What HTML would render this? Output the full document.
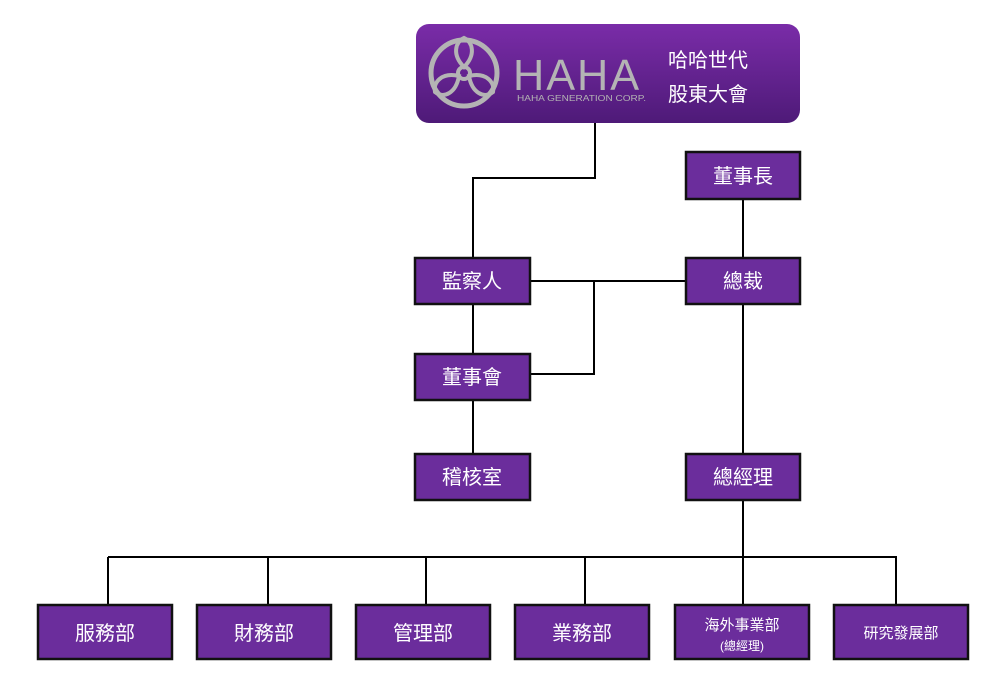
<!DOCTYPE html>
<html><head><meta charset="utf-8"><style>
html,body{margin:0;padding:0;background:#fff;}
svg{display:block}
text{font-family:"Liberation Sans","Noto Sans CJK TC",sans-serif;fill:#fff}
</style></head><body>
<svg width="1006" height="699" viewBox="0 0 1006 699" xmlns="http://www.w3.org/2000/svg">
<defs>
<linearGradient id="g" x1="0" y1="0" x2="0" y2="1">
<stop offset="0" stop-color="#7a2ca8"/><stop offset="1" stop-color="#4e1a78"/>
</linearGradient>
</defs>
<g stroke="#000" stroke-width="2" fill="none">
<polyline points="595,123 595,178 473,178 473,258"/>
<line x1="743" y1="200" x2="743" y2="258"/>
<line x1="531" y1="281" x2="685" y2="281"/>
<polyline points="531,374 594,374 594,281"/>
<line x1="473" y1="305" x2="473" y2="353"/>
<line x1="473" y1="401" x2="473" y2="453"/>
<line x1="743" y1="305" x2="743" y2="453"/>
<line x1="743" y1="501" x2="743" y2="557"/>
<line x1="108" y1="557" x2="897" y2="557"/>
<line x1="108" y1="557" x2="108" y2="604"/>
<line x1="268" y1="557" x2="268" y2="604"/>
<line x1="426" y1="557" x2="426" y2="604"/>
<line x1="585" y1="557" x2="585" y2="604"/>
<line x1="743" y1="557" x2="743" y2="604"/>
<line x1="896" y1="557" x2="896" y2="604"/>
</g>
<rect x="416" y="24" width="384" height="99" rx="13" fill="url(#g)"/>
<g stroke="#b4b4b4" fill="none">
<circle cx="464" cy="73" r="33" stroke-width="5"/>
<circle cx="464" cy="73" r="6" stroke-width="4"/>
<path d="M464 67 C452 55 455 42 464 38 C473 42 476 55 464 67Z" stroke-width="4"/>
<path d="M469 76 C486 72 495 82 493 92 C484 99 472 93 469 76Z" stroke-width="4"/>
<path d="M459 76 C442 72 433 82 435 92 C444 99 456 93 459 76Z" stroke-width="4"/>
</g>
<text x="513" y="90" style="fill:#b4b4b4;font-size:44px;letter-spacing:2px" textLength="128" lengthAdjust="spacingAndGlyphs">HAHA</text>
<text x="517" y="101" style="fill:#b4b4b4;font-size:8px" textLength="129" lengthAdjust="spacingAndGlyphs">HAHA GENERATION CORP.</text>
<text x="668" y="67" font-size="20">哈哈世代</text>
<text x="668" y="101" font-size="20">股東大會</text>
<g fill="#6b2d9c" stroke="#111" stroke-width="2.5">
<rect x="686" y="152" width="114" height="47"/>
<rect x="415" y="258" width="115" height="46"/>
<rect x="686" y="258" width="114" height="46"/>
<rect x="415" y="354" width="115" height="46"/>
<rect x="415" y="454" width="115" height="46"/>
<rect x="686" y="454" width="114" height="46"/>
<rect x="38" y="605" width="134" height="54"/>
<rect x="197" y="605" width="134" height="54"/>
<rect x="356" y="605" width="134" height="54"/>
<rect x="515" y="605" width="134" height="54"/>
<rect x="675" y="605" width="134" height="54"/>
<rect x="834" y="605" width="134" height="54"/>
</g>
<g font-size="20" text-anchor="middle">
<text x="743" y="183">董事長</text>
<text x="472" y="288">監察人</text>
<text x="743" y="288">總裁</text>
<text x="472" y="384">董事會</text>
<text x="472" y="484">稽核室</text>
<text x="743" y="484">總經理</text>
<text x="105" y="640">服務部</text>
<text x="264" y="640">財務部</text>
<text x="423" y="640">管理部</text>
<text x="582" y="640">業務部</text>
</g>
<text x="742" y="630" font-size="15" text-anchor="middle">海外事業部</text>
<text x="742" y="650" font-size="12" text-anchor="middle">(總經理)</text>
<text x="901" y="638" font-size="15" text-anchor="middle">研究發展部</text>
</svg>
</body></html>
